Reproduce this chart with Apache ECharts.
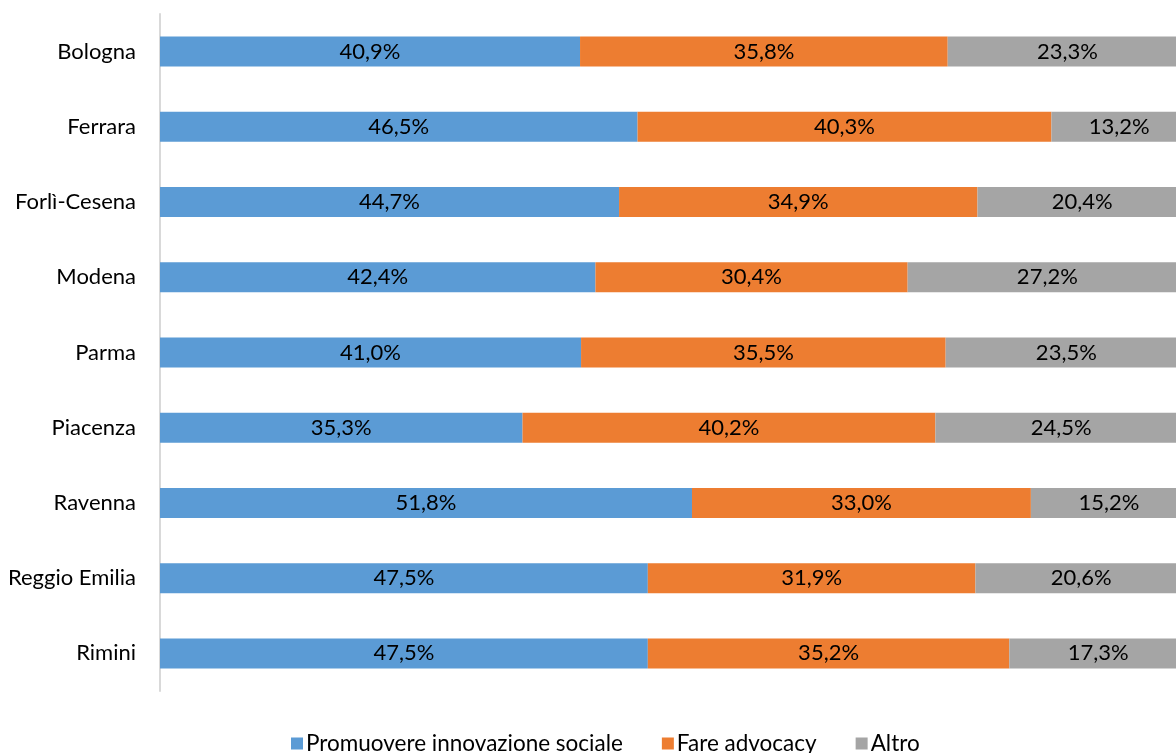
<!DOCTYPE html>
<html>
<head>
<meta charset="utf-8">
<script src="https://cdn.jsdelivr.net/npm/echarts@6/dist/echarts.min.js"></script>
<style>
  html, body { margin: 0; padding: 0; background: #fff; overflow: hidden; }
  /* the chart is a little wider than the window, so the right end of the bars is clipped */
  #chart { width: 1187px; height: 753px; }
</style>
</head>
<body>
<div id="chart"></div>
<script>
// Province categories, top to bottom
const provinces = ['Bologna', 'Ferrara', 'Forlì-Cesena', 'Modena', 'Parma', 'Piacenza', 'Ravenna', 'Reggio Emilia', 'Rimini'];

// Shares (%) per province
const innovazione = [40.9, 46.5, 44.7, 42.4, 41.0, 35.3, 51.8, 47.5, 47.5];
const advocacy    = [35.8, 40.3, 34.9, 30.4, 35.5, 40.2, 33.0, 31.9, 35.2];
const altro       = [23.3, 13.2, 20.4, 27.2, 23.5, 24.5, 15.2, 20.6, 17.3];

const seriesNames = ['Promuovere innovazione sociale', 'Fare advocacy', 'Altro'];
const colors = ['#5B9BD5', '#ED7D31', '#A5A5A5'];
const FONT = 'Lato, "Open Sans", sans-serif';

const fmt = p => p.value.toFixed(1).replace('.', ',') + '%';

const chart = echarts.init(document.getElementById('chart'), null, { renderer: 'canvas' });

function makeSeries(name, data, color) {
  return {
    name: name,
    type: 'bar',
    stack: 'total',
    data: data,
    barWidth: 30,
    itemStyle: { color: color },
    label: {
      show: true,
      position: 'inside',
      formatter: fmt,
      color: '#000',
      fontFamily: FONT,
      fontSize: 22
    }
  };
}

chart.setOption({
  animation: false,
  color: colors,
  grid: { left: 160, right: 0, top: 14, height: 677, containLabel: false },
  xAxis: {
    type: 'value',
    min: 0,
    max: 100,
    show: false
  },
  yAxis: {
    type: 'category',
    data: provinces,
    inverse: true,
    axisLine: { show: true, lineStyle: { color: '#D9D9D9', width: 2 } },
    axisTick: { show: false },
    axisLabel: { color: '#000', fontFamily: FONT, fontSize: 22, margin: 24 }
  },
  legend: {
    data: seriesNames,
    top: 727,
    left: 286,
    itemWidth: 12,
    itemHeight: 12,
    itemGap: 39,
    icon: 'rect',
    textStyle: { color: '#000', fontFamily: FONT, fontSize: 22.5, padding: [0, 0, 0, -2] }
  },
  series: [
    makeSeries(seriesNames[0], innovazione, colors[0]),
    makeSeries(seriesNames[1], advocacy, colors[1]),
    makeSeries(seriesNames[2], altro, colors[2])
  ]
});
</script>
</body>
</html>
